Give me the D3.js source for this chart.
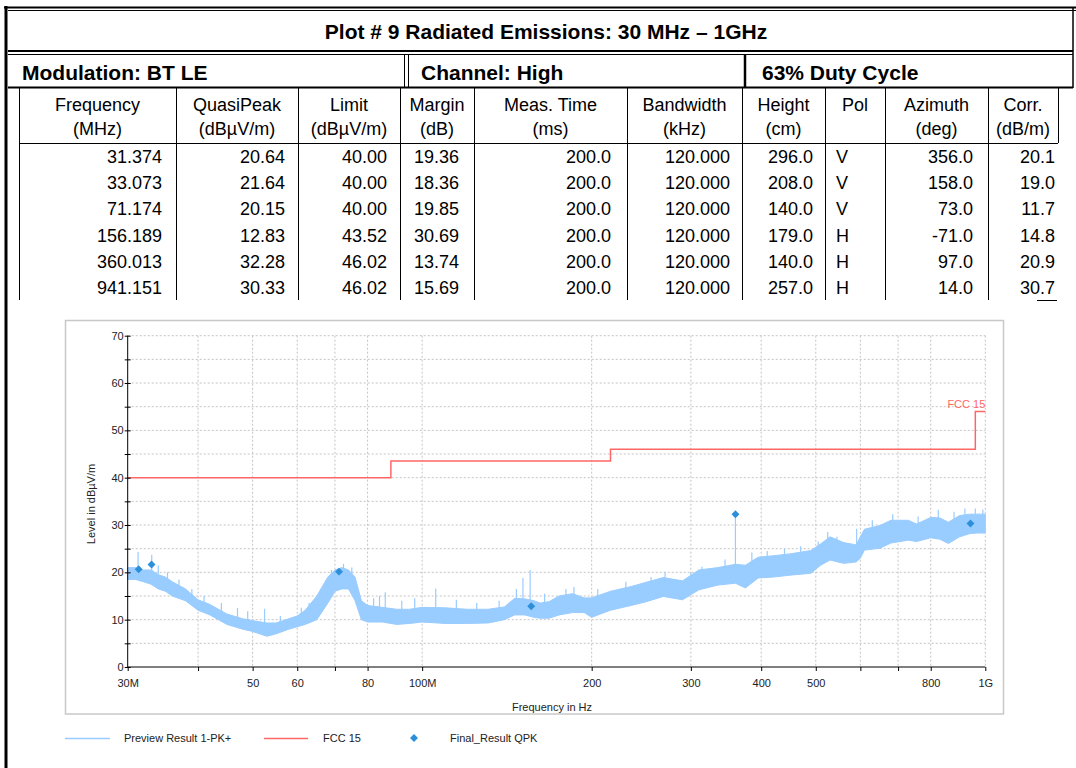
<!DOCTYPE html>
<html>
<head>
<meta charset="utf-8">
<script src="https://cdn.jsdelivr.net/npm/d3@7"></script>
<style>
body { margin: 0; background: #fff; }
svg { display: block; }
</style>
</head>
<body>
<div id="chart"></div>
<script>
// ---- table data ----
var headers = [["Frequency", "(MHz)"], ["QuasiPeak", "(dBµV/m)"], ["Limit", "(dBµV/m)"], ["Margin", "(dB)"],
    ["Meas. Time", "(ms)"], ["Bandwidth", "(kHz)"], ["Height", "(cm)"], ["Pol", ""], ["Azimuth", "(deg)"], ["Corr.", "(dB/m)"]];
var qpkFreq = [31.374, 33.073, 71.174, 156.189, 360.013, 941.151];
var qpkLevel = [20.64, 21.64, 20.15, 12.83, 32.28, 30.33];
var limitVal = [40.00, 40.00, 40.00, 43.52, 46.02, 46.02];
var marginVal = [19.36, 18.36, 19.85, 30.69, 13.74, 15.69];
var measTime = [200.0, 200.0, 200.0, 200.0, 200.0, 200.0];
var bandwidth = [120.000, 120.000, 120.000, 120.000, 120.000, 120.000];
var heightCm = [296.0, 208.0, 140.0, 179.0, 140.0, 257.0];
var pol = ["V", "V", "V", "H", "H", "H"];
var azimuth = [356.0, 158.0, 73.0, -71.0, 97.0, 14.0];
var corr = [20.1, 19.0, 11.7, 14.8, 20.9, 30.7];

// ---- chart data ----
var limitFreq = [30, 88, 216, 960, 1000];
var limitLevel = [40, 43.5, 46, 54, 54];

// preview trace, read as a low/high band
var previewFreq = [30, 31, 32, 33, 34, 35, 36, 38, 40, 42, 45, 48, 50, 53, 55, 58, 60, 62, 65, 68, 70, 72, 74, 76, 77, 78, 80,
    85, 90, 95, 100, 110, 120, 131, 140, 146, 152, 158, 162, 168, 175, 185, 194, 200, 216, 235, 250, 268, 290, 310, 335,
    360, 375, 395, 420, 450, 490, 510, 530, 560, 590, 600, 610, 650, 680, 730, 755, 800, 830, 860, 900, 940, 970, 1000];
var previewLow = [18.5, 18.5, 18, 17.5, 16.5, 16, 15, 14, 12, 11, 9, 8, 7.5, 6.5, 7, 8, 8.5, 9, 10, 13.5, 16, 16.5, 16.5, 14, 12, 10, 9.5,
    9.5, 9, 9.2, 9.5, 9.2, 9.2, 9.3, 10, 11, 11, 10.5, 10.3, 10.3, 11, 11.5, 11.5, 10.5, 12, 13, 13.8, 14.9, 14.2, 16.3, 17.3,
    17.7, 16.7, 18.8, 19, 19.4, 19.8, 21.5, 22.6, 21.9, 22.2, 23, 24.7, 25.1, 26.2, 26.8, 26.5, 27.3, 27, 26.1, 27.5, 28.2, 28.3, 28.3];
var previewHigh = [21, 21, 20.5, 20.5, 19.5, 19, 18, 16.5, 14.2, 13.2, 11.2, 10.2, 9.8, 9.3, 9.3, 10.2, 10.8, 12, 15, 19, 20.5, 21, 20.5, 19, 16.5, 14, 13,
    12.6, 12.2, 12.2, 12.6, 12.5, 12.2, 12.2, 12.7, 14.5, 14.4, 14, 13.5, 13.8, 15, 15.5, 14.6, 14.6, 16, 17, 17.9, 18.9, 18.2, 20.5, 21,
    21.7, 21.5, 23.2, 23.5, 23.9, 24.6, 26, 27.5, 26.3, 25.8, 27.5, 29.1, 29.9, 31, 31, 30.2, 31.6, 31.5, 30.6, 32, 32.3, 32.3, 32.3];
// single spikes above the band
var spikeFreq = [31.3, 33.1, 34, 35.3, 37, 39, 41, 44, 47, 49, 52.5, 56, 61, 63, 66, 69,
    72.5, 75, 82, 84, 86, 92, 97, 105.7, 115, 125, 137, 147, 151, 155.5, 165,
    180, 186, 205, 230, 255, 270, 300, 314, 345, 360, 385, 410, 440, 470,
    505, 525, 545, 591, 630, 685, 760, 825, 880, 920, 960, 990];
var spikeTop = [24.3, 23.7, 21.5, 20, 18.5, 16.5, 15, 13.5, 12.5, 11.8, 12.3, 10.8, 12.5, 13.5, 16.5, 20.5,
    21.8, 21, 14.5, 15, 15.8, 14, 14.5, 16.6, 14.2, 13.5, 14, 16.5, 18.8, 20.5, 15.5,
    16.5, 16.9, 16.5, 18, 19, 20.1, 20, 21.2, 22.7, 32.28, 24.2, 24.5, 25, 25.5,
    26.5, 28.5, 27.5, 29.2, 31, 32.3, 31.8, 33.2, 32.8, 33.5, 33.5, 33.3];

var xTickVals = [30, 40, 50, 60, 70, 80, 100, 200, 300, 400, 500, 600, 700, 800, 1000];
var xTickText = ["30M", "", "50", "60", "", "80", "100M", "200", "300", "400", "500", "", "", "800", "1G"];
var yTickVals = [0, 5, 10, 15, 20, 25, 30, 35, 40, 45, 50, 55, 60, 65, 70];

var W = 1076, H = 768;
var svg = d3.select("#chart").append("svg").attr("width", W).attr("height", H);
svg.append("rect").attr("width", W).attr("height", H).attr("fill", "#fff");

var narrow = "'Liberation Sans Narrow', 'Arial Narrow', 'Liberation Sans', Arial, sans-serif";
var sans = "'Liberation Sans', Arial, sans-serif";

// ---- table frame ----
var tbl = svg.append("g").attr("stroke", "#000").attr("fill", "none");
function ln(x1, y1, x2, y2, w) {
    tbl.append("line").attr("x1", x1).attr("y1", y1).attr("x2", x2).attr("y2", y2).attr("stroke-width", w);
}
ln(4, 7.5, 1076, 7.5, 2);
ln(8, 10.5, 1076, 10.5, 1);
ln(6, 6, 6, 768, 3);
ln(1073, 7, 1073, 88, 1.5);
ln(8, 51, 1073, 51, 2);
ln(8, 54.5, 1073, 54.5, 1);
ln(8, 87.5, 1073, 87.5, 2);
ln(404.5, 54, 404.5, 88, 1);
ln(408.5, 54, 408.5, 88, 1);
ln(745, 54, 745, 88, 2.5);
ln(19, 143.5, 1058, 143.5, 1);
ln(1037, 300.5, 1057, 300.5, 1);

svg.append("text").attr("x", 546).attr("y", 39).attr("text-anchor", "middle")
    .style("font-family", narrow).style("font-weight", "bold").style("font-size", "21px")
    .text("Plot # 9 Radiated Emissions: 30 MHz \u2013 1GHz");
[["Modulation: BT LE", 22], ["Channel: High", 421], ["63% Duty Cycle", 762]].forEach(function(d) {
    svg.append("text").attr("x", d[1]).attr("y", 80)
        .style("font-family", narrow).style("font-weight", "bold").style("font-size", "21px")
        .text(d[0]);
});

var colEdges = [19, 176, 298, 400, 474, 627, 742, 825, 885, 988, 1058];
colEdges.forEach(function(x, i) {
    ln(x + 0.5, 88, x + 0.5, i == colEdges.length - 1 ? 143 : 300, 1);
});

headers.forEach(function(h, i) {
    var cx = (colEdges[i] + colEdges[i + 1]) / 2;
    svg.append("text").attr("x", cx).attr("y", 111).attr("text-anchor", "middle")
        .style("font-family", narrow).style("font-size", "18px").text(h[0]);
    svg.append("text").attr("x", cx).attr("y", 135).attr("text-anchor", "middle")
        .style("font-family", narrow).style("font-size", "18px").text(h[1]);
});

var rowY = 163, rowH = 26.2;
var cols = [
    qpkFreq.map(function(v) { return v.toFixed(3); }),
    qpkLevel.map(function(v) { return v.toFixed(2); }),
    limitVal.map(function(v) { return v.toFixed(2); }),
    marginVal.map(function(v) { return v.toFixed(2); }),
    measTime.map(function(v) { return v.toFixed(1); }),
    bandwidth.map(function(v) { return v.toFixed(3); }),
    heightCm.map(function(v) { return v.toFixed(1); }),
    pol,
    azimuth.map(function(v) { return v.toFixed(1); }),
    corr.map(function(v) { return v.toFixed(1); })
];
var rightPad = [14, 13, 13, 15, 16, 12, 12, 0, 15, 3];
cols.forEach(function(c, ci) {
    c.forEach(function(v, ri) {
        var t = svg.append("text").attr("y", rowY + ri * rowH)
            .style("font-family", narrow).style("font-size", "18px").text(v);
        if (ci == 7) t.attr("x", colEdges[ci] + 11);
        else t.attr("x", colEdges[ci + 1] - rightPad[ci]).attr("text-anchor", "end");
    });
});

// ---- chart ----
svg.append("rect").attr("x", 65.5).attr("y", 320.5).attr("width", 938).attr("height", 393.5)
    .attr("fill", "#fff").attr("stroke", "#c8c8c8").attr("stroke-width", 1.5);

var x = d3.scaleLog().domain([30, 1000]).range([127.7, 985.3]);
var y = d3.scaleLinear().domain([0, 70]).range([667, 335.7]);

var grid = svg.append("g").attr("stroke", "#c4c4c4").attr("stroke-dasharray", "2,2").attr("stroke-width", 1);
grid.selectAll(".gx").data(xTickVals.slice(1)).enter().append("line")
    .attr("x1", function(d) { return x(d); }).attr("x2", function(d) { return x(d); })
    .attr("y1", y(70)).attr("y2", y(0));
grid.selectAll(".gy").data(yTickVals.slice(1)).enter().append("line")
    .attr("x1", x(30)).attr("x2", x(1000))
    .attr("y1", function(d) { return y(d); }).attr("y2", function(d) { return y(d); });

// preview band
var band = previewFreq.map(function(f, i) { return [f, previewLow[i], previewHigh[i]]; });
svg.append("path").datum(band)
    .attr("d", d3.area().x(function(d) { return x(d[0]); }).y0(function(d) { return y(d[1]); }).y1(function(d) { return y(d[2]); }))
    .attr("fill", "#99ccff").attr("stroke", "#99ccff").attr("stroke-width", 1);

svg.append("g").selectAll("line").data(spikeFreq).enter().append("line")
    .attr("x1", function(d) { return x(d); }).attr("x2", function(d) { return x(d); })
    .attr("y1", function(d, i) {
        var j = d3.bisectLeft(previewFreq, d);
        return y(Math.min(previewHigh[j], previewHigh[Math.max(j - 1, 0)]));
    })
    .attr("y2", function(d, i) { return y(spikeTop[i]); })
    .attr("stroke", "#99ccff").attr("stroke-width", 1.2);

// limit line
var lim = limitFreq.map(function(f, i) { return [f, limitLevel[i]]; });
svg.append("path").datum(lim)
    .attr("d", d3.line().curve(d3.curveStepAfter).x(function(d) { return x(d[0]); }).y(function(d) { return y(d[1]); }))
    .attr("fill", "none").attr("stroke", "#ff6666").attr("stroke-width", 1.5);
svg.append("text").attr("x", x(1000)).attr("y", 408).attr("text-anchor", "end")
    .style("font-family", sans).style("font-size", "11px").attr("fill", "#ff6666")
    .text("FCC 15");

// final result diamonds
svg.append("g").selectAll("path").data(qpkFreq).enter().append("path")
    .attr("d", d3.symbol().type(d3.symbolDiamond2).size(40))
    .attr("transform", function(d, i) { return "translate(" + x(d) + "," + y(qpkLevel[i]) + ")"; })
    .attr("fill", "#2d8fd9");

// axes
var xAxis = d3.axisBottom(x).tickValues(xTickVals).tickSize(4)
    .tickFormat(function(d, i) { return xTickText[i]; });
var gx = svg.append("g").attr("transform", "translate(0," + y(0) + ")").call(xAxis);
gx.selectAll("text").attr("dy", "1.15em");

var yAxis = d3.axisLeft(y).tickValues(yTickVals).tickSize(0)
    .tickFormat(function(d) { return d % 10 == 0 ? d : ""; });
var gy = svg.append("g").attr("transform", "translate(" + x(30) + ",0)").call(yAxis);
gy.selectAll(".tick line").attr("x1", -3).attr("x2", 3);
gy.selectAll("text").attr("x", -4);

[gx, gy].forEach(function(g) {
    g.selectAll("path").attr("stroke", "#000");
    g.selectAll("line").attr("stroke", "#000");
    g.selectAll("text").attr("fill", "#222")
        .style("font-family", sans).style("font-size", "11px");
});
gx.select(".domain").attr("d", "M" + x(30) + ",0H" + x(1000));
gy.select(".domain").attr("d", "M0," + y(0) + "V" + y(70));

svg.append("text").attr("x", 552).attr("y", 711).attr("text-anchor", "middle")
    .style("font-family", sans).style("font-size", "11px").attr("fill", "#222")
    .text("Frequency in Hz");
svg.append("text").attr("transform", "translate(95,504)rotate(-90)").attr("text-anchor", "middle")
    .style("font-family", sans).style("font-size", "11px").attr("fill", "#222")
    .text("Level in dBµV/m");

// legend
var leg = svg.append("g").style("font-family", sans).style("font-size", "11px");
leg.append("line").attr("x1", 65).attr("x2", 110).attr("y1", 738.5).attr("y2", 738.5).attr("stroke", "#99ccff").attr("stroke-width", 1.5);
leg.append("text").attr("x", 124).attr("y", 742).attr("fill", "#222").text("Preview Result 1-PK+");
leg.append("line").attr("x1", 264).attr("x2", 308).attr("y1", 738.5).attr("y2", 738.5).attr("stroke", "#ff6666").attr("stroke-width", 1.5);
leg.append("text").attr("x", 323).attr("y", 742).attr("fill", "#222").text("FCC 15");
leg.append("path").attr("d", d3.symbol().type(d3.symbolDiamond2).size(40)).attr("transform", "translate(414,738)").attr("fill", "#2d8fd9");
leg.append("text").attr("x", 450).attr("y", 742).attr("fill", "#222").text("Final_Result QPK");
</script>
</body>
</html>
